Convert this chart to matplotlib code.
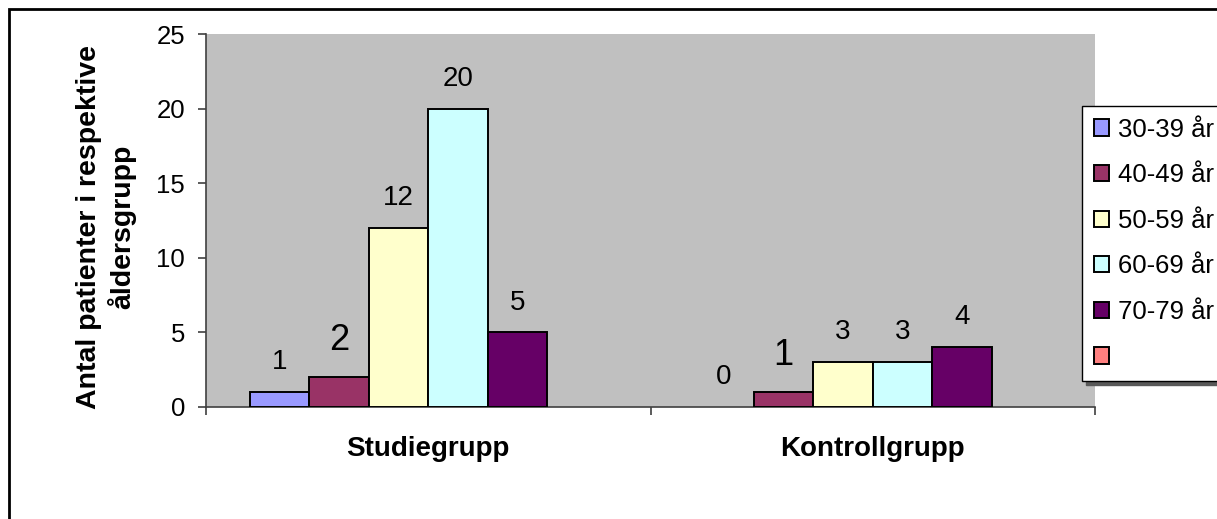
import numpy as np
import matplotlib
matplotlib.use("Agg")
import matplotlib.pyplot as plt
from matplotlib.patches import Patch, Rectangle

plt.rcParams['font.family'] = ['Liberation Sans', 'DejaVu Sans']

# data
groups = ['Studiegrupp', 'Kontrollgrupp']
series = ['30-39 år', '40-49 år', '50-59 år', '60-69 år', '70-79 år', '']
studie = [1, 2, 12, 20, 5, np.nan]
kontroll = [0, 1, 3, 3, 4, np.nan]
colors = ['#9999FF', '#993366', '#FFFFCC', '#CCFFFF', '#660066', '#FF8080']
big_labels = {(0, 1), (1, 1)}  # labels that were drawn larger in the original

W, H = 1217, 519
fig = plt.figure(figsize=(W / 100, H / 100), dpi=100)
ax = fig.add_axes([206 / W, 1 - 407 / H, (1095 - 206) / W, (407 - 34) / H])
ax.set_facecolor('#C0C0C0')

values = np.array([studie, kontroll])
x = np.arange(len(groups))
w = 59.5 / 444.5
for i, name in enumerate(series):
    offs = (i - (len(series) - 1) / 2) * w
    vals = values[:, i]
    # zero bars are invisible in the original
    lw = [0 if v == 0 else 1.4 for v in vals]
    ax.bar(x + offs, vals, width=w, color=colors[i],
           edgecolor='black', linewidth=lw, label=name, zorder=3)
    for g, v in enumerate(vals):
        if np.isnan(v):
            continue
        big = (g, i) in big_labels
        ax.annotate(f'{int(v)}', (x[g] + offs, v), xytext=(0, 26.5 if big else 21.5),
                    textcoords='offset points', ha='center', va='center',
                    fontsize=26 if big else 20, color='black')

ax.set_xlim(-0.5, 1.5)
ax.set_ylim(0, 25)
ax.set_yticks(np.arange(0, 26, 5))
ax.tick_params(axis='y', direction='out', length=6, width=1.2, color='#404040',
               labelsize=18.5, pad=9)
ax.set_xticks([-0.5, 0.5, 1.5])
ax.set_xticklabels([])
ax.tick_params(axis='x', which='major', direction='out', length=6, width=1.2, color='#404040')
ax.set_xticks(x, minor=True)
ax.set_xticklabels(groups, minor=True, fontsize=20, fontweight='bold')
ax.tick_params(axis='x', which='minor', length=0, pad=21)
for s in ['top', 'right']:
    ax.spines[s].set_visible(False)
for s in ['left', 'bottom']:
    ax.spines[s].set_color('#404040')
    ax.spines[s].set_linewidth(1.2)

fig.text(106 / W, 1 - 227 / H, 'Antal patienter i respektive\nåldersgrupp',
         rotation=90, ha='center', va='center', multialignment='center',
         fontsize=20.5, fontweight='bold', linespacing=1.25)

handles = [Patch(facecolor=c, edgecolor='black', linewidth=1.4) for c in colors]
leg = fig.legend(handles, series, loc='upper left',
                 bbox_to_anchor=(1082 / W, 1 - 106 / H), borderaxespad=0,
                 fontsize=18.5, frameon=True, fancybox=False, handlelength=0.6,
                 handleheight=0.6, handletextpad=0.35, labelspacing=0.84,
                 borderpad=0.45,
                 shadow={'color': '0.35', 'alpha': 1, 'ox': 3, 'oy': -3})
leg.get_frame().set_edgecolor('black')
leg.get_frame().set_linewidth(1.0)
leg.get_frame().set_facecolor('white')

# outer chart border (cut off at right and bottom like the original)
fig.patches.append(Rectangle((9 / W, -0.2), 1.2, 1.2 - 9 / H, transform=fig.transFigure,
                             fill=False, edgecolor='black', linewidth=2, zorder=0))

fig.savefig('out.png', dpi=100)
